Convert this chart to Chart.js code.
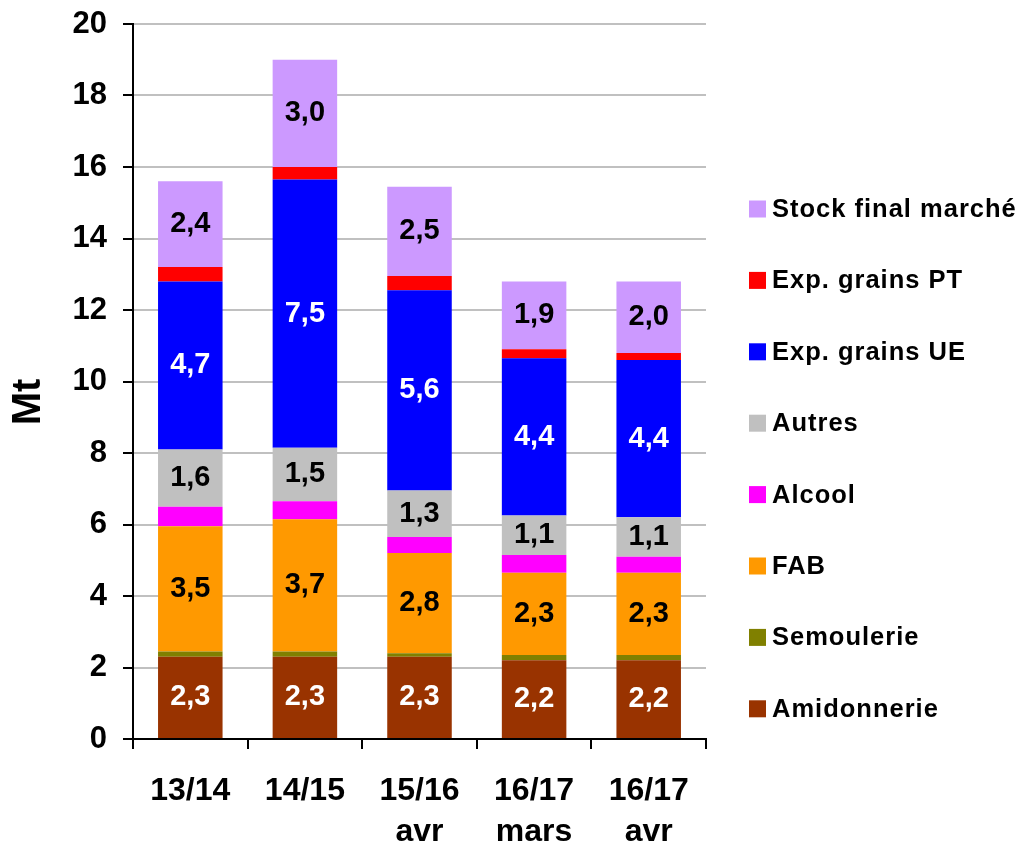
<!DOCTYPE html>
<html lang="fr">
<head>
<meta charset="utf-8">
<title>Mt</title>
<script src="https://cdn.jsdelivr.net/npm/chart.js@4/dist/chart.umd.min.js"></script>
<style>
  body { margin: 0; background: #fff; }
  canvas { display: block; }
</style>
</head>
<body>
<canvas id="chart" width="1023" height="848"></canvas>
<script>
'use strict';
let campagnes = ['13/14', '14/15', ['15/16', 'avr'], ['16/17', 'mars'], ['16/17', 'avr']];
let yTicks = [0, 2, 4, 6, 8, 10, 12, 14, 16, 18, 20];

// debouches, du bas vers le haut de la pile
let amidonnerie = [2.3, 2.3, 2.3, 2.2, 2.2];
let semoulerie = [0.15, 0.15, 0.1, 0.15, 0.15];
let fab = [3.5, 3.7, 2.8, 2.3, 2.3];
let alcool = [0.55, 0.5, 0.45, 0.5, 0.45];
let autres = [1.6, 1.5, 1.3, 1.1, 1.1];
let expGrainsUE = [4.7, 7.5, 5.6, 4.4, 4.4];
let expGrainsPT = [0.4, 0.35, 0.4, 0.25, 0.2];
let stockFinal = [2.4, 3.0, 2.5, 1.9, 2.0];

let font = '"Liberation Sans", Arial, sans-serif';

function serie(label, data, color, valueColor) {
  return {
    label: label,
    data: data,
    backgroundColor: color,
    borderWidth: 0,
    categoryPercentage: 1,
    barPercentage: 0.563,
    showValues: !!valueColor,
    valueColor: valueColor
  };
}

// chiffres au milieu des segments principaux
let segmentLabels = {
  id: 'segmentLabels',
  afterDatasetsDraw(chart) {
    let ctx = chart.ctx;
    ctx.save();
    ctx.font = 'bold 29px ' + font;
    ctx.textAlign = 'center';
    ctx.textBaseline = 'middle';
    chart.data.datasets.forEach(function (ds, i) {
      if (!ds.showValues) return;
      chart.getDatasetMeta(i).data.forEach(function (bar, j) {
        ctx.fillStyle = ds.valueColor;
        ctx.fillText(ds.data[j].toFixed(1).replace('.', ','), bar.x, (bar.y + bar.base) / 2);
      });
    });
    ctx.restore();
  }
};

// legende a droite (ordre inverse de la pile) + titre de l'axe
let sideLegend = {
  id: 'sideLegend',
  afterDraw(chart) {
    let ctx = chart.ctx;
    let sets = chart.data.datasets.slice().reverse();
    ctx.save();
    ctx.font = 'bold 25.5px ' + font;
    ctx.letterSpacing = '1px';
    ctx.textBaseline = 'middle';
    ctx.textAlign = 'left';
    for (let k = 0; k < sets.length; k++) {
      let y = 209 + k * 71.4;
      ctx.fillStyle = sets[k].backgroundColor;
      ctx.fillRect(749, y - 8.5, 17, 17);
      ctx.fillStyle = '#000';
      ctx.fillText(sets[k].label, 772, y + 1);
    }
    ctx.letterSpacing = '0px';
    ctx.translate(29, 402);
    ctx.rotate(-Math.PI / 2);
    ctx.textAlign = 'center';
    ctx.font = 'bold 40px ' + font;
    ctx.fillText('Mt', 0, 0);
    ctx.restore();
  }
};

new Chart(document.getElementById('chart'), {
  type: 'bar',
  data: {
    labels: campagnes,
    datasets: [
      serie('Amidonnerie', amidonnerie, '#993300', '#ffffff'),
      serie('Semoulerie', semoulerie, '#808000'),
      serie('FAB', fab, '#ff9900', '#000000'),
      serie('Alcool', alcool, '#ff00ff'),
      serie('Autres', autres, '#c0c0c0', '#000000'),
      serie('Exp. grains UE', expGrainsUE, '#0000ff', '#ffffff'),
      serie('Exp. grains PT', expGrainsPT, '#ff0000'),
      serie('Stock final marché', stockFinal, '#cc99ff', '#000000')
    ]
  },
  options: {
    responsive: false,
    animation: false,
    devicePixelRatio: 1,
    layout: { padding: { top: 24, right: 317, left: 0, bottom: 0 } },
    plugins: { legend: { display: false }, tooltip: { enabled: false } },
    scales: {
      x: {
        stacked: true,
        offset: true,
        grid: { offset: true, drawOnChartArea: false, color: '#000', lineWidth: 2, tickLength: 10 },
        border: { color: '#000', width: 2 },
        ticks: {
          color: '#000',
          padding: 22,
          maxRotation: 0,
          font: { family: font, size: 32, weight: 'bold', lineHeight: 1.27 }
        },
        afterFit: function (scale) {
          scale.height = 109;
          scale.paddingLeft = 0;
          scale.paddingRight = 0;
        }
      },
      y: {
        stacked: true,
        min: 0,
        max: 20,
        afterBuildTicks: function (scale) {
          scale.ticks = yTicks.map(function (v) { return { value: v }; });
        },
        grid: { color: '#c0c0c0', lineWidth: 2, tickColor: '#000', tickLength: 10 },
        border: { color: '#000', width: 2 },
        ticks: {
          color: '#000',
          padding: 16,
          font: { family: font, size: 31, weight: 'bold' }
        },
        afterFit: function (scale) {
          scale.width = 133;
          scale.paddingTop = 0;
          scale.paddingBottom = 0;
        }
      }
    }
  },
  plugins: [segmentLabels, sideLegend]
});
</script>
</body>
</html>
